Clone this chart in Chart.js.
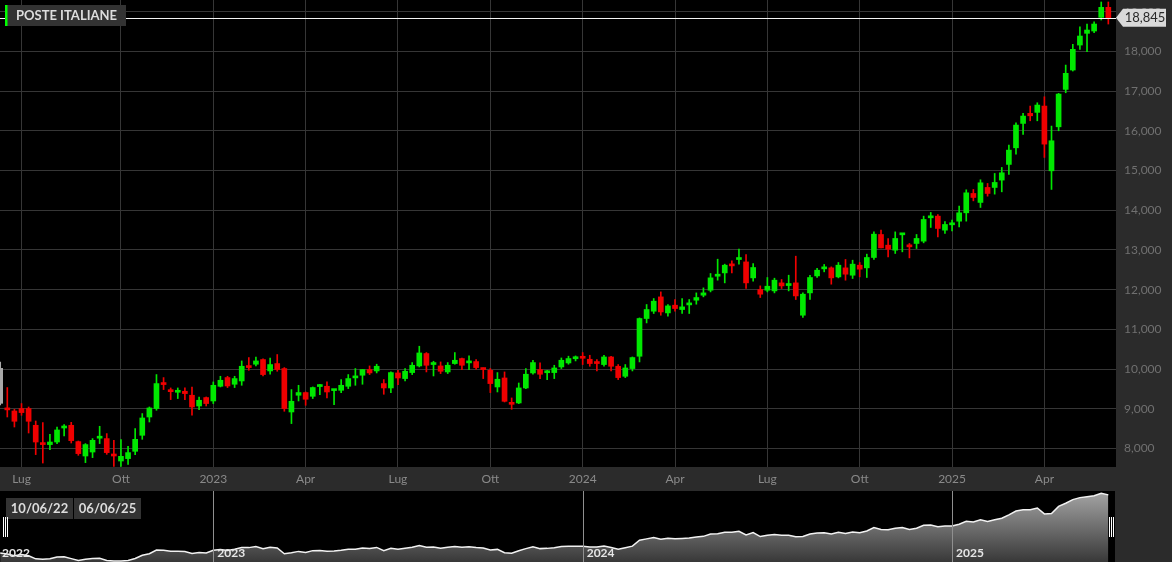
<!DOCTYPE html>
<html><head><meta charset="utf-8">
<script src="https://cdn.jsdelivr.net/npm/chart.js@4.4.1/dist/chart.umd.min.js"></script>
<style>
html,body{margin:0;padding:0;background:#2b2b2b;width:1172px;height:562px;overflow:hidden;}
#main{position:absolute;left:0;top:0;}
#nav{position:absolute;left:0;top:491px;}
</style></head><body>
<canvas id="main" width="1172" height="491"></canvas>
<canvas id="nav" width="1172" height="71"></canvas>
<script>
const title = 'POSTE ITALIANE';
// weekly candles, first entry = week before the visible range (drawn grey, cut by the left edge)
const open = [10.02,
 8.990, 8.947, 9.008, 9.008, 8.587, 8.151, 8.101, 8.166, 8.519, 8.587,
 8.176, 7.814, 7.914, 8.262, 8.252, 7.824, 7.688, 7.748, 7.932, 8.335,
 8.796, 9.008, 9.653, 9.443, 9.418, 9.443, 9.343, 9.073, 9.285, 9.199,
 9.569, 9.788, 9.620, 9.703, 10.048, 10.124, 10.242, 9.955, 10.141, 10.015,
 8.922, 9.343, 9.411, 9.317, 9.562, 9.569, 9.460, 9.468, 9.569, 9.780,
 9.847, 9.990, 9.955, 9.637, 9.527, 9.905, 9.763, 9.914, 10.081, 10.393,
 10.116, 10.081, 9.930, 10.141, 10.267, 10.158, 10.191, 10.002, 9.972, 9.552,
 9.778, 9.132, 9.149, 9.527, 9.905, 9.990, 9.910, 9.914, 10.056, 10.156,
 10.262, 10.290, 10.249, 10.149, 10.116, 10.307, 10.073, 9.821, 10.015, 10.325,
 11.275, 11.459, 11.819, 11.416, 11.610, 11.501, 11.618, 11.736, 11.862, 11.987,
 12.340, 12.424, 12.643, 12.760, 12.700, 12.298, 12.005, 11.987, 11.970, 12.172,
 12.105, 12.172, 11.358, 11.920, 12.348, 12.525, 12.550, 12.323, 12.550, 12.365,
 12.617, 12.550, 12.811, 13.390, 13.121, 12.995, 13.382, 13.087, 13.164, 13.222,
 13.810, 13.852, 13.499, 13.634, 13.725, 13.936, 14.423, 14.197, 14.574, 14.574,
 14.759, 15.154, 15.572, 16.186, 16.439, 16.464, 16.623, 14.993, 16.101, 17.043,
 17.530, 18.159, 18.454, 18.512, 18.856, 19.108];
const high = [10.18,
 9.537, 8.990, 9.134, 9.048, 8.695, 8.655, 8.360, 8.544, 8.605, 8.662,
 8.191, 8.126, 8.252, 8.562, 8.378, 8.209, 8.227, 8.058, 8.504, 8.882,
 9.048, 9.864, 9.788, 9.527, 9.527, 9.527, 9.552, 9.300, 9.300, 9.678,
 9.821, 9.821, 9.821, 10.207, 10.292, 10.307, 10.257, 10.282, 10.368, 10.040,
 9.486, 9.594, 9.426, 9.552, 9.620, 9.678, 9.494, 9.738, 9.864, 10.015,
 9.990, 10.081, 10.124, 9.738, 9.930, 9.972, 10.015, 10.166, 10.577, 10.418,
 10.199, 10.182, 10.166, 10.418, 10.282, 10.333, 10.242, 10.030, 10.015, 9.914,
 9.930, 9.275, 9.652, 10.015, 10.224, 10.158, 9.972, 10.098, 10.282, 10.326,
 10.333, 10.418, 10.350, 10.242, 10.350, 10.325, 10.116, 10.116, 10.307, 11.290,
 11.627, 11.778, 11.945, 11.627, 11.753, 11.778, 11.753, 11.920, 12.046, 12.408,
 12.768, 12.643, 12.726, 13.020, 12.887, 12.659, 12.096, 12.307, 12.290, 12.257,
 12.365, 12.844, 11.920, 12.365, 12.541, 12.635, 12.575, 12.685, 12.761, 12.743,
 12.685, 12.895, 13.456, 13.499, 13.290, 13.456, 13.416, 13.164, 13.390, 13.852,
 13.945, 13.894, 13.718, 13.751, 14.104, 14.515, 14.524, 14.767, 14.675, 14.927,
 15.078, 15.640, 16.202, 16.439, 16.623, 16.706, 16.857, 16.119, 16.942, 17.655,
 18.177, 18.620, 18.688, 18.746, 19.243, 19.243];
const low = [9.10,
 8.796, 8.544, 8.839, 8.393, 7.849, 7.637, 7.975, 8.126, 8.318, 8.141,
 7.831, 7.647, 7.773, 8.126, 7.856, 7.554, 7.554, 7.605, 7.849, 8.234,
 8.670, 8.965, 9.486, 9.234, 9.260, 9.234, 8.839, 8.982, 9.073, 9.134,
 9.552, 9.537, 9.537, 9.594, 9.972, 10.081, 9.829, 9.872, 9.947, 8.940,
 8.630, 9.199, 9.091, 9.260, 9.360, 9.275, 9.108, 9.410, 9.511, 9.594,
 9.620, 9.864, 9.905, 9.368, 9.410, 9.612, 9.703, 9.864, 10.056, 9.930,
 9.829, 9.889, 9.889, 10.124, 9.990, 9.990, 9.998, 9.763, 9.410, 9.426,
 9.174, 8.990, 9.132, 9.511, 9.872, 9.763, 9.738, 9.763, 10.015, 10.124,
 10.207, 10.116, 10.073, 9.955, 10.073, 9.955, 9.738, 9.788, 9.955, 10.182,
 11.164, 11.401, 11.358, 11.332, 11.459, 11.401, 11.401, 11.635, 11.820, 11.945,
 12.240, 12.172, 12.424, 12.643, 12.030, 12.214, 11.803, 11.945, 11.920, 12.030,
 11.970, 11.753, 11.300, 11.753, 12.307, 12.450, 12.139, 12.298, 12.240, 12.282,
 12.323, 12.307, 12.761, 13.053, 12.827, 12.912, 12.953, 12.801, 13.037, 13.180,
 13.567, 13.330, 13.415, 13.482, 13.583, 13.726, 14.237, 14.070, 14.355, 14.406,
 14.464, 14.900, 15.413, 15.909, 16.252, 16.252, 15.330, 14.524, 16.001, 16.958,
 17.505, 18.051, 17.990, 18.470, 18.789, 18.688];
const close = [9.14,
 8.975, 8.688, 8.907, 8.688, 8.166, 8.101, 8.166, 8.469, 8.529, 8.201,
 7.874, 8.101, 8.209, 8.272, 7.899, 7.814, 7.806, 7.899, 8.234, 8.771,
 9.023, 9.637, 9.612, 9.433, 9.433, 9.385, 9.048, 9.217, 9.134, 9.594,
 9.720, 9.577, 9.763, 10.073, 10.040, 10.207, 9.864, 10.116, 9.990, 9.008,
 9.191, 9.411, 9.242, 9.537, 9.569, 9.426, 9.468, 9.594, 9.763, 9.788,
 9.990, 9.905, 10.073, 9.527, 9.914, 9.778, 9.947, 10.098, 10.408, 10.098,
 10.124, 9.947, 10.098, 10.224, 10.098, 10.166, 10.040, 9.990, 9.637, 9.746,
 9.191, 9.115, 9.527, 9.872, 10.166, 9.872, 9.914, 10.030, 10.224, 10.267,
 10.267, 10.274, 10.141, 10.141, 10.307, 10.073, 9.788, 10.030, 10.292, 11.275,
 11.501, 11.711, 11.441, 11.592, 11.526, 11.568, 11.627, 11.803, 11.920, 12.298,
 12.348, 12.617, 12.600, 12.768, 12.172, 12.559, 11.887, 12.088, 12.240, 12.096,
 12.113, 11.844, 11.887, 12.307, 12.491, 12.534, 12.298, 12.617, 12.391, 12.643,
 12.517, 12.811, 13.398, 13.053, 13.020, 13.290, 13.390, 13.079, 13.290, 13.768,
 13.818, 13.542, 13.642, 13.642, 13.936, 14.439, 14.322, 14.691, 14.423, 14.700,
 14.943, 15.514, 16.144, 16.371, 16.378, 16.648, 15.665, 15.749, 16.925, 17.447,
 18.051, 18.386, 18.537, 18.688, 19.108, 18.845];

const xTickIdx = [2, 16, 29, 42, 55, 68, 81, 94, 107, 120, 133, 146];
const xTickLabels = ['Lug','Ott','2023','Apr','Lug','Ott','2024','Apr','Lug','Ott','2025','Apr'];
const yTicks = [8, 9, 10, 11, 12, 13, 14, 15, 16, 17, 18, 19];
const navYearIdx = [29, 81, 133];
const navYearLabels = ['2022', '2023', '2024', '2025'];
const rangeLabels = ['10/06/22', '06/06/25'];

const weekIdx = open.map((_, k) => k - 1);
const X_MIN = -1.028, X_MAX = 156.08;
const Y_MIN = 7.537, Y_MAX = 19.293;
const GREEN = '#00e800', RED = '#f00000', GREY = '#a8a8a8';
const fmt = v => v.toFixed(3).replace('.', ',');
const last = close.length - 1;

Chart.defaults.font.family = 'Lato';

function candleColor(ctx) {
  const k = ctx.dataIndex;
  if (k === 0) return GREY;
  return close[k] >= open[k] ? GREEN : RED;
}

const mainPlugin = {
  id: 'mainDeco',
  beforeDraw(chart) {
    const {ctx, chartArea: a} = chart;
    ctx.save();
    ctx.fillStyle = '#000';
    ctx.fillRect(a.left, a.top, a.right - a.left, a.bottom - a.top);
    ctx.restore();
  },
  afterDatasetsDraw(chart) {
    const {ctx, chartArea: a, scales} = chart;
    const y = Math.round(scales.y.getPixelForValue(close[last])) + 0.5;
    ctx.save();
    ctx.strokeStyle = '#f4f4f4';
    ctx.lineWidth = 1;
    ctx.beginPath(); ctx.moveTo(a.left, y); ctx.lineTo(a.right, y); ctx.stroke();
    ctx.restore();
  },
  afterDraw(chart) {
    const {ctx, chartArea: a, scales} = chart;
    ctx.save();
    // title box
    ctx.fillStyle = '#333333';
    ctx.fillRect(5, 5, 121, 21);
    ctx.fillStyle = '#00ff00';
    ctx.fillRect(5, 5, 2.5, 21);
    ctx.fillStyle = '#dddddd';
    ctx.font = 'bold 13px Lato';
    ctx.textBaseline = 'middle';
    ctx.textAlign = 'left';
    ctx.fillText(title, 16, 16);
    // last price marker
    const y = scales.y.getPixelForValue(close[last]);
    const r = a.right;
    ctx.fillStyle = '#d9d9d9';
    ctx.beginPath();
    ctx.moveTo(r, y);
    ctx.lineTo(r + 7, y - 9);
    ctx.lineTo(r + 50, y - 9);
    ctx.lineTo(r + 50, y + 9);
    ctx.lineTo(r + 7, y + 9);
    ctx.closePath();
    ctx.fill();
    ctx.fillStyle = '#2a2a2a';
    ctx.font = '13px Lato';
    ctx.textAlign = 'center';
    ctx.fillText(fmt(close[last]), r + 29, y + 0.5);
    ctx.restore();
  }
};

new Chart(document.getElementById('main'), {
  type: 'bar',
  data: {
    datasets: [
      {
        label: 'wick',
        data: weekIdx.map((x, k) => ({x, y: [low[k], high[k]]})),
        backgroundColor: candleColor,
        barThickness: 1,
        grouped: false,
        order: 2
      },
      {
        label: 'body',
        data: weekIdx.map((x, k) => ({x, y: [open[k], close[k]]})),
        backgroundColor: candleColor,
        barThickness: 5,
        minBarLength: 2,
        grouped: false,
        order: 1
      }
    ]
  },
  options: {
    responsive: false,
    animation: false,
    layout: {padding: 0},
    plugins: {legend: {display: false}, tooltip: {enabled: false}},
    scales: {
      x: {
        type: 'linear', min: X_MIN, max: X_MAX, offset: false,
        grid: {color: '#363636', drawTicks: false, offset: false},
        border: {display: false},
        afterBuildTicks: s => { s.ticks = xTickIdx.map(v => ({value: v})); },
        afterFit: s => { s.height = 24; s.paddingLeft = 0; s.paddingRight = 0; },
        ticks: {
          autoSkip: false, maxRotation: 0, padding: 5,
          color: '#8a8a8a', font: {size: 12, family: 'Lato'},
          callback: v => xTickLabels[xTickIdx.indexOf(v)] ?? ''
        }
      },
      y: {
        position: 'right', min: Y_MIN, max: Y_MAX,
        grid: {color: '#363636', drawTicks: false},
        border: {display: false},
        afterBuildTicks: s => { s.ticks = yTicks.map(v => ({value: v})); },
        afterFit: s => { s.width = 56; s.paddingTop = 0; s.paddingBottom = 0; },
        ticks: {
          padding: 8, color: '#707070', font: {size: 12, family: 'Lato'},
          callback: v => fmt(v)
        }
      }
    }
  },
  plugins: [mainPlugin]
});

const navPlugin = {
  id: 'navDeco',
  beforeDraw(chart) {
    const {ctx, chartArea: a} = chart;
    ctx.save();
    ctx.fillStyle = '#000';
    ctx.fillRect(a.left, a.top, a.right - a.left - 1, a.bottom - a.top);
    ctx.restore();
  },
  afterDatasetsDraw(chart) {
    const {ctx, chartArea: a, scales} = chart;
    ctx.save();
    ctx.strokeStyle = '#8f8f8f';
    ctx.lineWidth = 1;
    navYearIdx.forEach(i => {
      const x = Math.round(scales.x.getPixelForValue(i)) + 0.5;
      ctx.beginPath(); ctx.moveTo(x, a.top); ctx.lineTo(x, a.bottom); ctx.stroke();
    });
    ctx.font = 'bold 12px Lato';
    ctx.textAlign = 'left';
    ctx.textBaseline = 'alphabetic';
    ctx.fillStyle = '#e6e6e6';
    ctx.fillText(navYearLabels[0], a.left + 2, 66);
    navYearIdx.forEach((i, k) => {
      ctx.fillText(navYearLabels[k + 1], scales.x.getPixelForValue(i) + 4, 66);
    });
    // range date boxes
    ctx.font = 'bold 13px Lato';
    ctx.textAlign = 'center';
    ctx.textBaseline = 'middle';
    [[6, rangeLabels[0]], [74, rangeLabels[1]]].forEach(([bx, t]) => {
      ctx.fillStyle = '#333333';
      ctx.fillRect(bx, 7, 67, 21);
      ctx.fillStyle = '#dddddd';
      ctx.fillText(t, bx + 33.5, 18);
    });
    // handles
    ctx.strokeStyle = '#ffffff';
    [3.5, 5.5, 7.5, 1109.5, 1111.5, 1113.5].forEach(x => {
      ctx.beginPath(); ctx.moveTo(x, 26); ctx.lineTo(x, 46); ctx.stroke();
    });
    ctx.restore();
  }
};

new Chart(document.getElementById('nav'), {
  type: 'line',
  data: {
    datasets: [{
      data: weekIdx.map((x, k) => ({x, y: close[k]})),
      borderColor: '#f2f2f2',
      borderWidth: 1.5,
      pointRadius: 0,
      tension: 0,
      fill: 'start',
      backgroundColor: ctx => {
        const ca = ctx.chart.chartArea;
        if (!ca) return '#666';
        const g = ctx.chart.ctx.createLinearGradient(0, ca.top, 0, ca.bottom);
        g.addColorStop(0, '#a6a6a6');
        g.addColorStop(1, '#383838');
        return g;
      }
    }]
  },
  options: {
    responsive: false,
    animation: false,
    layout: {padding: {right: 56}},
    plugins: {legend: {display: false}, tooltip: {enabled: false}},
    scales: {
      x: {type: 'linear', min: X_MIN, max: X_MAX, display: false},
      y: {min: 7.639, max: 19.492, display: false}
    }
  },
  plugins: [navPlugin]
});
</script>
</body></html>
